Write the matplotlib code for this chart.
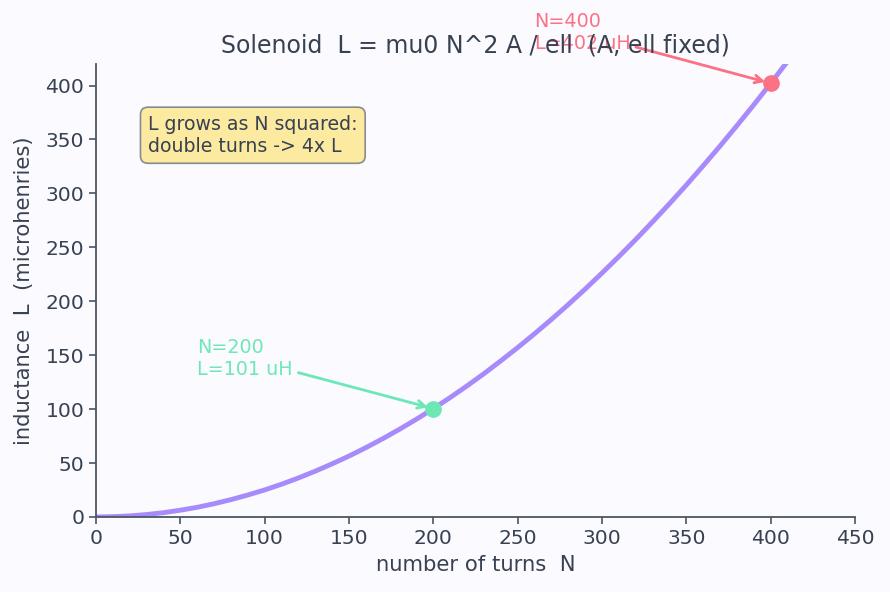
import matplotlib
matplotlib.use("Agg")
import matplotlib.pyplot as plt

# turns and inductance (uH)
turns = [0, 10, 20, 30, 40, 50, 60, 70, 80, 90, 100, 110, 120, 130, 140, 150, 160, 170, 180,
         190, 200, 210, 220, 230, 240, 250, 260, 270, 280, 290, 300, 310, 320, 330, 340, 350,
         360, 370, 380, 390, 400, 410, 420, 430, 440, 450]
induct = [0, 0.3, 1.0, 2.3, 4.0, 6.3, 9.0, 12.3, 16.1, 20.4, 25.1, 30.4, 36.2, 42.5, 49.3,
          56.5, 64.3, 72.6, 81.4, 90.7, 100.5, 110.8, 121.6, 132.9, 144.8, 157.1, 169.9,
          183.2, 197.0, 211.3, 226.2, 241.5, 257.3, 273.7, 290.5, 307.8, 325.7, 344.0,
          362.9, 382.2, 402.1, 422.4, 443.3, 464.7, 486.5, 508.9]

mark_n = [200, 400]
mark_l = [100.5, 402.1]
mark_labels = ["N=200\nL=101 uH", "N=400\nL=402 uH"]
mark_colors = ["#6ee7b7", "#fb7185"]
mark_text_pos = [(60, 147), (260, 449)]

TXT = "#374151"
AX = "#4b5563"

fig = plt.figure(figsize=(8.9, 5.92), dpi=100, facecolor="#fafaff")
ax = fig.add_axes([0.1079, 0.1267, 0.8528, 0.7652])
ax.set_facecolor("#fafaff")

ax.plot(turns, induct, color="#a78bfa", lw=3.5, zorder=2, solid_capstyle="round")

for n, l, lab, c, (tx, ty) in zip(mark_n, mark_l, mark_labels, mark_colors, mark_text_pos):
    ax.plot([n], [l], "o", color=c, ms=11, zorder=3)
    ax.annotate(lab, xy=(n, l), xytext=(tx, ty),
                textcoords="data", ha="left", va="center", color=c, fontsize=13.8,
                annotation_clip=False,
                arrowprops=dict(arrowstyle="->", color=c, lw=2, shrinkA=2, shrinkB=4))

ax.text(0.0685, 0.888, "L grows as N squared:\ndouble turns -> 4x L", transform=ax.transAxes,
        ha="left", va="top", fontsize=13.6, color=TXT,
        bbox=dict(boxstyle="round,pad=0.4", facecolor="#fde68a", edgecolor="#6b7280",
                  alpha=0.8, lw=1.2))

ax.set_xlim(0, 450)
ax.set_ylim(0, 420)
ax.set_xticks(range(0, 451, 50))
ax.set_yticks(range(0, 401, 50))
ax.set_title("Solenoid  L = mu0 N^2 A / ell  (A, ell fixed)", fontsize=17, color=TXT, pad=8)
ax.set_xlabel("number of turns  N", fontsize=15.2, color=TXT, labelpad=5)
ax.set_ylabel("inductance  L  (microhenries)", fontsize=15.2, color=TXT, labelpad=8)

for side in ("top", "right"):
    ax.spines[side].set_visible(False)
for side in ("left", "bottom"):
    ax.spines[side].set_color(AX)
    ax.spines[side].set_linewidth(1.3)
ax.tick_params(colors=AX, labelcolor=TXT, labelsize=14.6, width=1.2, length=5)

fig.savefig("out.png", dpi=100, facecolor=fig.get_facecolor())
